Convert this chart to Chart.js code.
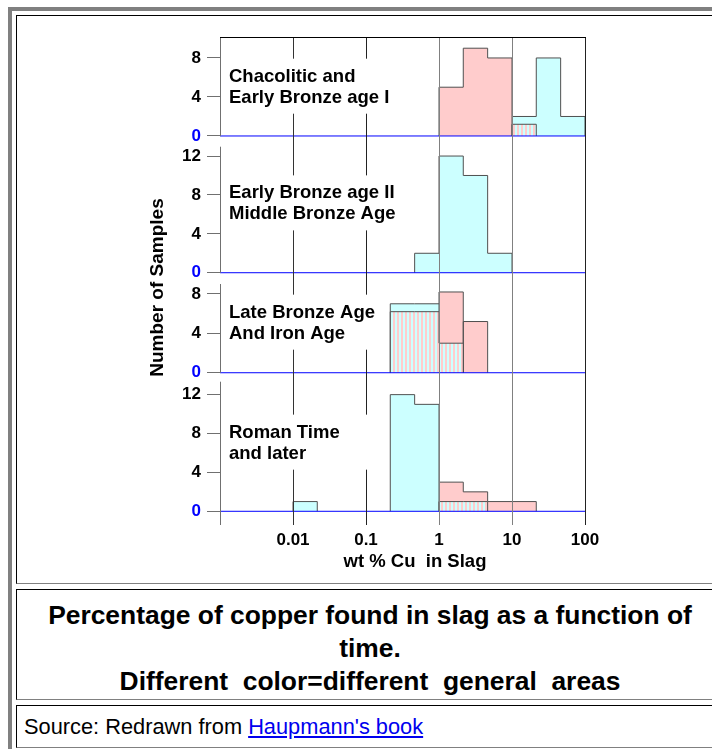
<!DOCTYPE html>
<html>
<head>
<meta charset="utf-8">
<title>Copper in slag</title>
<script src="https://cdn.jsdelivr.net/npm/chart.js@4.4.0/dist/chart.umd.min.js"></script>
<style>
html, body { margin: 0; padding: 0; overflow: hidden; background: #fff; }
body { font-family: "Liberation Sans", Arial, sans-serif; width: 712px; height: 749px; position: relative; }
.frame { position: absolute; left: 8px; top: 7px; width: 760px; height: 800px; border-left: 4px solid #808080; border-top: 4px solid #808080; }
.cell { position: absolute; left: 16px; width: 708px; box-sizing: border-box; border-top: 1px solid #000; border-left: 1px solid #000; border-right: 1px solid #808080; border-bottom: 1px solid #808080; }
#chartCell { top: 15px; height: 569px; }
#chartCell canvas { position: absolute; left: 0; top: 0; }
#caption { top: 589px; height: 111px; text-align: center; font-weight: bold; font-size: 26.4px; line-height: 33px; padding-top: 9px; }
#source { top: 705px; height: 43px; font-size: 21.8px; line-height: 41px; padding-left: 7px; }
#source a { color: #0000ee; text-decoration: underline; }
</style>
</head>
<body>
<div class="frame"></div>
<div class="cell" id="chartCell"><canvas id="chart" width="695" height="567"></canvas></div>
<div class="cell" id="caption">Percentage of copper found in slag as a function of<br>time.<br>Different&nbsp; color=different&nbsp; general&nbsp; areas</div>
<div class="cell" id="source">Source: Redrawn from <a href="#">Haupmann's book</a></div>

<script>
/* Classes de teneur en cuivre : tiers de decade entre 0.001 et 100 % */
var binEdges = [0.001, 0.00215, 0.00464, 0.01, 0.0215, 0.0464, 0.1, 0.215, 0.464, 1, 2.15, 4.64, 10, 21.5, 46.4, 100];

/* Nombre d'echantillons par classe (15 classes) */
var p1Pink  = [0, 0, 0, 0, 0, 0, 0, 0, 0, 5, 9, 8, 0, 0, 0];
var p1Cyan  = [0, 0, 0, 0, 0, 0, 0, 0, 0, 0, 0, 0, 2, 8, 2];
var p1Mixed = [0, 0, 0, 0, 0, 0, 0, 0, 0, 0, 0, 0, 1.2, 0, 0];
var p2Cyan  = [0, 0, 0, 0, 0, 0, 0, 0, 2, 12, 10, 2, 0, 0, 0];
var p3Cyan  = [0, 0, 0, 0, 0, 0, 0, 7, 7, 0, 0, 0, 0, 0, 0];
var p3Pink  = [0, 0, 0, 0, 0, 0, 0, 0, 0, 8.2, 5.2, 0, 0, 0, 0];
var p3Mixed = [0, 0, 0, 0, 0, 0, 0, 6.2, 6.2, 3, 0, 0, 0, 0, 0];
var p4Cyan  = [0, 0, 0, 1, 0, 0, 0, 12, 11, 0, 0, 0, 0, 0, 0];
var p4Pink  = [0, 0, 0, 0, 0, 0, 0, 0, 0, 3, 2, 1, 1, 0, 0];
var p4Mixed = [0, 0, 0, 0, 0, 0, 0, 0, 0, 1, 1, 0, 0, 0, 0];

/* Axes */
var xTickValues = [0.001, 0.01, 0.1, 1, 10, 100];
var xTickLabels = ['', '0.01', '0.1', '1', '10', '100'];
var p1Ticks = [0, 4, 8];
var p2Ticks = [0, 4, 8, 12];
var p3Ticks = [0, 4, 8];
var p4Ticks = [0, 4, 8, 12];

var panelLabels = [
  ['Chacolitic and', 'Early Bronze age I'],
  ['Early Bronze age II', 'Middle Bronze Age'],
  ['Late Bronze Age', 'And Iron Age'],
  ['Roman Time', 'and later']
];
var xTitle = 'wt % Cu  in Slag';
var yTitle = 'Number of Samples';

var pinkFill = '#ffcccc';
var cyanFill = '#ccffff';
var FONT = '"Liberation Sans", Arial, sans-serif';

Chart.defaults.font.family = FONT;

var canvas = document.getElementById('chart');
var ctx = canvas.getContext('2d');

// hachures verticales rose / bleu
function stripes() {
  var c = document.createElement('canvas');
  c.width = 4; c.height = 4;
  var g = c.getContext('2d');
  g.fillStyle = pinkFill; g.fillRect(0, 0, 2, 4);
  g.fillStyle = cyanFill; g.fillRect(2, 0, 2, 4);
  return ctx.createPattern(c, 'repeat');
}
var mixedFill = stripes();

// contour en escalier d'un histogramme
function histPoints(counts, merge) {
  var pts = [];
  var i = 0;
  while (i < counts.length) {
    if (!counts[i]) { i++; continue; }
    var j = i;
    if (merge) { while (j + 1 < counts.length && counts[j + 1]) j++; }
    pts.push({x: binEdges[i], y: 0});
    for (var k = i; k <= j; k++) pts.push({x: binEdges[k], y: counts[k]});
    pts.push({x: binEdges[j + 1], y: counts[j]});
    pts.push({x: binEdges[j + 1], y: 0});
    pts.push({x: binEdges[j + 1], y: null});
    i = j + 1;
  }
  return pts;
}

function hist(counts, fill, yAxisID, merge, order) {
  return {
    data: histPoints(counts, merge),
    xAxisID: 'x',
    yAxisID: yAxisID,
    backgroundColor: fill,
    borderColor: '#505050',
    borderWidth: 1,
    fill: 'origin',
    stepped: 'before',
    tension: 0,
    pointRadius: 0,
    pointHitRadius: 0,
    spanGaps: false,
    order: order
  };
}

// ligne du zero, en bleu, d'un bout a l'autre de l'axe x
function zeroLine(yAxisID) {
  return {
    data: [{x: xTickValues[0], y: 0}, {x: xTickValues[xTickValues.length - 1], y: 0}],
    xAxisID: 'x',
    yAxisID: yAxisID,
    borderColor: '#0000ff',
    borderWidth: 1,
    fill: false,
    pointRadius: 0,
    pointHitRadius: 0,
    order: -1
  };
}

function yScale(ticks, min, max, weight, stackWeight) {
  return {
    type: 'linear',
    position: 'left',
    stack: 'panels',
    stackWeight: stackWeight,
    weight: weight,
    min: min,
    max: max,
    afterBuildTicks: function(s) { s.ticks = ticks.map(function(v) { return {value: v}; }); },
    afterFit: function(s) { s.width = 203; },
    border: {display: false},
    grid: {
      drawOnChartArea: false,
      lineWidth: 1,
      tickLength: 13,
      tickColor: '#707070',
      color: '#707070'
    },
    ticks: {
      padding: 6,
      font: {size: 17, weight: 'bold'},
      color: function(c) { return c.tick && c.tick.value === 0 ? '#0000ff' : '#000'; }
    }
  };
}

var gridColors = ['rgba(0,0,0,0)', '#333', '#222', '#808080', '#808080', '#222'];
var panelIds = ['y1', 'y2', 'y3', 'y4'];
var labelValues = [6.08, 8.16, 6.1, 8.09];

var decor = {
  id: 'decor',
  afterDraw: function(chart) {
    var c = chart.ctx, a = chart.chartArea, s = chart.scales;
    c.save();
    c.lineWidth = 1;
    // axe vertical gauche, interrompu entre les panneaux
    c.strokeStyle = '#707070';
    panelIds.forEach(function(id, i) {
      var sc = s[id];
      c.beginPath();
      c.moveTo(a.left + 0.5, sc.top);
      c.lineTo(a.left + 0.5, i === 3 ? sc.bottom : sc.getPixelForValue(0));
      c.stroke();
    });
    // cadre du haut
    c.strokeStyle = '#000';
    c.beginPath();
    c.moveTo(a.left, a.top + 0.5);
    c.lineTo(a.right + 1, a.top + 0.5);
    c.stroke();
    // etiquettes des periodes
    c.font = 'bold 18.5px ' + FONT;
    c.textBaseline = 'middle';
    c.textAlign = 'left';
    panelLabels.forEach(function(lines, i) {
      var y1 = s[panelIds[i]].getPixelForValue(labelValues[i]);
      c.fillStyle = '#fff';
      c.fillRect(a.left + 5, y1 - 18, 160, 55);
      c.fillStyle = '#000';
      lines.forEach(function(t, k) { c.fillText(t, a.left + 9, y1 + k * 21); });
    });
    // titres des axes
    c.textAlign = 'center';
    c.fillText(xTitle, a.left + 195, a.bottom + 37);
    c.font = 'bold 19px ' + FONT;
    c.translate(a.left - 62, (a.top + a.bottom) / 2 + 6.5);
    c.rotate(-Math.PI / 2);
    c.fillText(yTitle, 0, 0);
    c.restore();
  }
};

var chart = new Chart(ctx, {
  type: 'line',
  data: {
    datasets: [
      zeroLine('y1'),
      zeroLine('y2'),
      zeroLine('y3'),
      zeroLine('y4'),
      hist(p1Mixed, mixedFill, 'y1', true, 0),
      hist(p3Mixed, mixedFill, 'y3', true, 0),
      hist(p4Mixed, mixedFill, 'y4', true, 0),
      hist(p1Pink, pinkFill, 'y1', true, 1),
      hist(p1Cyan, cyanFill, 'y1', true, 1),
      hist(p2Cyan, cyanFill, 'y2', true, 1),
      hist(p3Cyan, cyanFill, 'y3', true, 1),
      hist(p3Pink, pinkFill, 'y3', false, 1),
      hist(p4Cyan, cyanFill, 'y4', true, 1),
      hist(p4Pink, pinkFill, 'y4', true, 1)
    ]
  },
  options: {
    responsive: false,
    animation: false,
    events: [],
    layout: {padding: {left: 0, right: 127, top: 21, bottom: 0}},
    plugins: {legend: {display: false}, tooltip: {enabled: false}},
    scales: {
      x: {
        type: 'logarithmic',
        position: 'bottom',
        min: 0.001,
        max: 100,
        afterBuildTicks: function(s) { s.ticks = xTickValues.map(function(v) { return {value: v}; }); },
        afterFit: function(s) { s.height = 58; },
        border: {display: false},
        grid: {
          z: 1,
          drawTicks: false,
          lineWidth: 1,
          color: function(c) { return gridColors[c.index]; }
        },
        ticks: {
          autoSkip: false,
          maxRotation: 0,
          padding: 5,
          color: '#000',
          font: {size: 17, weight: 'bold'},
          callback: function(v, i) { return xTickLabels[i]; }
        }
      },
      y1: yScale(p1Ticks, -1.1, 10.15, 4, 109.7),
      y2: yScale(p2Ticks, -1.16, 12.96, 3, 137.3),
      y3: yScale(p3Ticks, -0.91, 9.01, 2, 97.7),
      y4: yScale(p4Ticks, -1.41, 13.33, 1, 143.3)
    }
  },
  plugins: [decor]
});
</script>
</body>
</html>
